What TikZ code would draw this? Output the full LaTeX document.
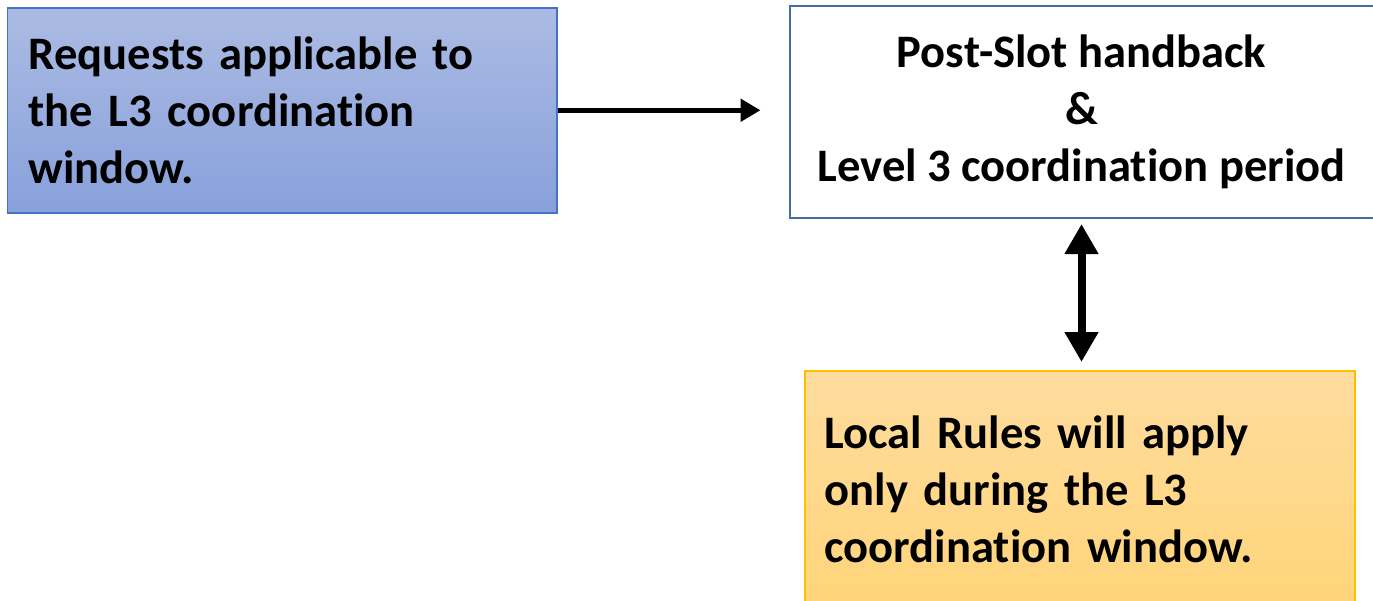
\documentclass[tikz,border=0pt]{standalone}
\usepackage{fontspec}
\setmainfont{Carlito}[Ligatures=NoCommon]
\usetikzlibrary{arrows.meta,positioning}

\definecolor{reqtop}{RGB}{171,187,227}
\definecolor{reqbot}{RGB}{136,160,219}
\definecolor{reqline}{RGB}{68,114,196}
\definecolor{postline}{RGB}{65,113,156}
\definecolor{ruletop}{RGB}{254,220,158}
\definecolor{rulebot}{RGB}{255,212,121}
\definecolor{ruleline}{RGB}{255,192,0}

\begin{document}
\begin{tikzpicture}[
		txt/.style={font=\fontsize{26.5pt}{32.4pt}\selectfont\bfseries},
		reqbox/.style={txt, draw=reqline, line width=0.03cm, top color=reqtop, bottom color=reqbot, align=left, text width=10.14cm, inner xsep=0.42cm, minimum height=4.1cm},
		postbox/.style={txt, draw=postline, line width=0.04cm, fill=white, align=center, minimum width=11.68cm, minimum height=4.24cm},
		rulebox/.style={txt, draw=ruleline, line width=0.04cm, top color=ruletop, bottom color=rulebot, align=left, text width=10.2cm, inner xsep=0.4cm, minimum height=4.74cm}
	]
		\useasboundingbox (0,0) rectangle (27.46,-12);
		\clip (0,0) rectangle (27.46,-12);

		\node[reqbox, anchor=north west] (req) at (0.14,-0.14) {Requests applicable to\\the L3 coordination\\window.};
		\node[postbox, right=4.62cm of req.north east, anchor=north west, yshift=0.04cm] (post) {Post-Slot handback\\\&\\Level 3 coordination period};
		\node[rulebox, below=3.02cm of post, xshift=-0.04cm] (rule) {Local Rules will apply\\only during the L3\\coordination window.};

		\draw[line width=0.1cm, -{Triangle[length=0.4cm, width=0.44cm]}, shorten >=0.56cm] (req.east) -- (req.east -| post.west);
		\draw[line width=0.16cm, {Triangle[length=0.6cm, width=0.64cm]}-{Triangle[length=0.6cm, width=0.64cm]}, shorten <=0.1cm, shorten >=0.16cm] (post.south) -- (post.south |- rule.north);
	\end{tikzpicture}
\end{document}
